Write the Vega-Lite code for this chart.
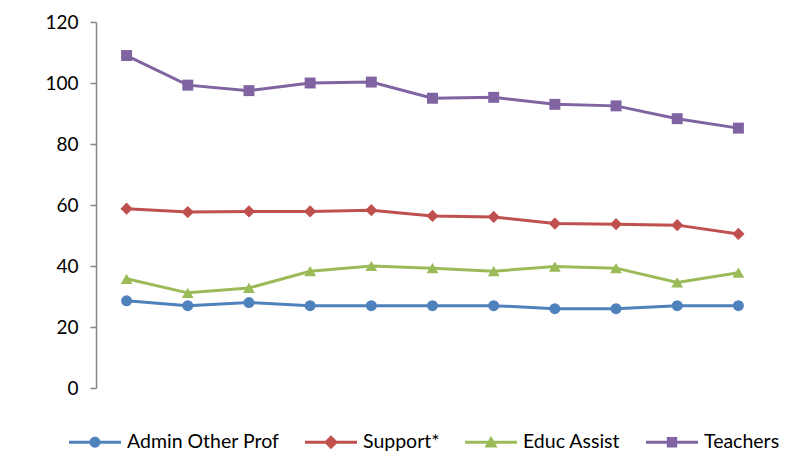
{
  "$schema": "https://vega.github.io/schema/vega-lite/v6.json",
  "width": 673,
  "height": 366,
  "autosize": {"type": "none"},
  "padding": {"left": 96, "top": 22, "right": 35, "bottom": 65},
  "background": "white",
  "config": {"view": {"stroke": null}, "font": "Lato"},
  "data": {"values": [
    {"i": 1, "s": "Admin Other Prof", "v": 28.6},
    {"i": 2, "s": "Admin Other Prof", "v": 27.0},
    {"i": 3, "s": "Admin Other Prof", "v": 28.0},
    {"i": 4, "s": "Admin Other Prof", "v": 27.0},
    {"i": 5, "s": "Admin Other Prof", "v": 27.0},
    {"i": 6, "s": "Admin Other Prof", "v": 27.0},
    {"i": 7, "s": "Admin Other Prof", "v": 27.0},
    {"i": 8, "s": "Admin Other Prof", "v": 26.0},
    {"i": 9, "s": "Admin Other Prof", "v": 26.0},
    {"i": 10, "s": "Admin Other Prof", "v": 27.0},
    {"i": 11, "s": "Admin Other Prof", "v": 27.0},
    {"i": 1, "s": "Support*", "v": 58.8},
    {"i": 2, "s": "Support*", "v": 57.7},
    {"i": 3, "s": "Support*", "v": 57.9},
    {"i": 4, "s": "Support*", "v": 57.9},
    {"i": 5, "s": "Support*", "v": 58.3},
    {"i": 6, "s": "Support*", "v": 56.4},
    {"i": 7, "s": "Support*", "v": 56.1},
    {"i": 8, "s": "Support*", "v": 53.9},
    {"i": 9, "s": "Support*", "v": 53.7},
    {"i": 10, "s": "Support*", "v": 53.4},
    {"i": 11, "s": "Support*", "v": 50.5},
    {"i": 1, "s": "Educ Assist", "v": 35.8},
    {"i": 2, "s": "Educ Assist", "v": 31.2},
    {"i": 3, "s": "Educ Assist", "v": 32.8},
    {"i": 4, "s": "Educ Assist", "v": 38.3},
    {"i": 5, "s": "Educ Assist", "v": 40.0},
    {"i": 6, "s": "Educ Assist", "v": 39.3},
    {"i": 7, "s": "Educ Assist", "v": 38.3},
    {"i": 8, "s": "Educ Assist", "v": 39.8},
    {"i": 9, "s": "Educ Assist", "v": 39.3},
    {"i": 10, "s": "Educ Assist", "v": 34.6},
    {"i": 11, "s": "Educ Assist", "v": 37.8},
    {"i": 1, "s": "Teachers", "v": 109.0},
    {"i": 2, "s": "Teachers", "v": 99.3},
    {"i": 3, "s": "Teachers", "v": 97.5},
    {"i": 4, "s": "Teachers", "v": 100.0},
    {"i": 5, "s": "Teachers", "v": 100.3},
    {"i": 6, "s": "Teachers", "v": 95.0},
    {"i": 7, "s": "Teachers", "v": 95.3},
    {"i": 8, "s": "Teachers", "v": 93.0},
    {"i": 9, "s": "Teachers", "v": 92.5},
    {"i": 10, "s": "Teachers", "v": 88.3},
    {"i": 11, "s": "Teachers", "v": 85.2}
  ]},
  "encoding": {
    "x": {"field": "i", "type": "ordinal", "scale": {"type": "point", "padding": 0.5}, "axis": null},
    "y": {
      "field": "v", "type": "quantitative",
      "scale": {"domain": [0, 120], "nice": false},
      "axis": {
        "title": null, "values": [0, 20, 40, 60, 80, 100, 120], "grid": false,
        "domainColor": "#868686", "domainWidth": 1.5, "tickColor": "#868686", "tickWidth": 1.5, "tickSize": 6,
        "labelPadding": 12, "labelFontSize": 19, "labelColor": "#000000", "labelFont": "Lato"
      }
    },
    "color": {
      "field": "s", "type": "nominal",
      "scale": {
        "domain": ["Admin Other Prof", "Support*", "Educ Assist", "Teachers"],
        "range": ["#4F81BD", "#C0504D", "#9BBB59", "#8064A2"]
      },
      "legend": {
        "title": null, "orient": "none", "legendX": -27, "legendY": 394, "direction": "horizontal",
        "symbolSize": 2704, "labelFontSize": 19.5, "labelFont": "Lato", "labelColor": "#000000",
        "labelOffset": 6, "columnPadding": 25, "symbolStrokeWidth": 0,
        "encode": {
          "symbols": {
            "update": {
              "shape": {"signal": "datum.value === 'Admin Other Prof' ? 'M-1,-0.055H1V0.055H-1Z M0.21,0A0.21,0.21 0 1,1 -0.21,0A0.21,0.21 0 1,1 0.21,0Z' : datum.value === 'Support*' ? 'M-1,-0.055H1V0.055H-1Z M0,-0.27L0.27,0L0,0.27L-0.27,0Z' : datum.value === 'Educ Assist' ? 'M-1,-0.055H1V0.055H-1Z M0,-0.25L0.25,0.2L-0.25,0.2Z' : 'M-1,-0.055H1V0.055H-1Z M-0.2,-0.2H0.2V0.2H-0.2Z'"},
              "fill": {"scale": "color", "field": "value"},
              "strokeWidth": {"value": 0},
              "opacity": {"value": 1}
            }
          }
        }
      }
    }
  },
  "layer": [
    {"mark": {"type": "line", "strokeWidth": 3}},
    {
      "mark": {"type": "point", "filled": true, "opacity": 1, "size": 125},
      "encoding": {
        "shape": {
          "condition": [
            {"test": "datum.s === 'Support*'", "value": "diamond"},
            {"test": "datum.s === 'Educ Assist'", "value": "triangle-up"},
            {"test": "datum.s === 'Teachers'", "value": "square"}
          ],
          "value": "circle"
        },
        "size": {
          "condition": [
            {"test": "datum.s === 'Support*'", "value": 150},
            {"test": "datum.s === 'Educ Assist'", "value": 140}
          ],
          "value": 120
        }
      }
    }
  ]
}
